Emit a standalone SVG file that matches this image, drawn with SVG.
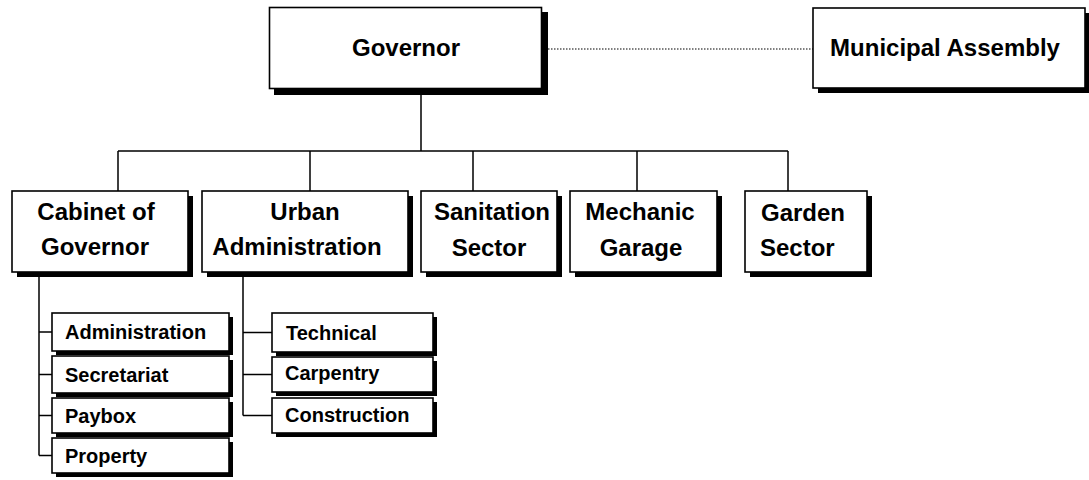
<svg xmlns="http://www.w3.org/2000/svg" width="1089" height="480" viewBox="0 0 1089 480">
  <style>
    .box { fill: #fff; stroke: #000; stroke-width: 1.6; }
    .shadow { fill: #000; }
    .t { font-family: "Liberation Sans", Arial, sans-serif; font-weight: bold; fill: #000; }
    .lg { font-size: 24px; }
    .sm { font-size: 20px; }
    .mid { text-anchor: middle; }
    .conn { stroke: #000; stroke-width: 1.5; fill: none; }
    .dot { stroke: #000; stroke-width: 1.2; stroke-dasharray: 1.5 1.5; fill: none; }
  </style>
  <rect width="1089" height="480" fill="#fff"/>

  <!-- connectors -->
  <g id="connectors">
    <line class="dot" x1="548" y1="49" x2="813" y2="49"/>
    <path class="conn" d="M421 94 V151 M118 151 H788 M118 151 V191 M310 151 V191 M473 151 V191 M637 151 V191 M788 151 V191"/>
    <path class="conn" d="M39 277 V455.5 M39 332 H52 M39 374.5 H52 M39 415.5 H52 M39 455.5 H52"/>
    <path class="conn" d="M243 277 V415.5 M243 332.5 H272 M243 374.5 H272 M243 415.5 H272"/>
  </g>

  <!-- top level -->
  <g id="governor">
    <rect class="shadow" x="274" y="12" width="274" height="83"/>
    <rect class="box" x="269.5" y="7.5" width="272" height="81"/>
    <text class="t lg mid" x="406" y="56">Governor</text>
  </g>
  <g id="municipal-assembly">
    <rect class="shadow" x="818" y="13" width="272" height="80"/>
    <rect class="box" x="813" y="8" width="272" height="80"/>
    <text class="t lg mid" x="945" y="56">Municipal Assembly</text>
  </g>

  <!-- departments -->
  <g id="cabinet-of-governor">
    <rect class="shadow" x="17" y="196" width="176" height="81"/>
    <rect class="box" x="12" y="191" width="176" height="81"/>
    <text class="t lg mid" x="96" y="220">Cabinet of</text>
    <text class="t lg mid" x="95" y="255">Governor</text>
  </g>
  <g id="urban-administration">
    <rect class="shadow" x="207" y="196" width="206" height="81"/>
    <rect class="box" x="202" y="191" width="206" height="81"/>
    <text class="t lg mid" x="305" y="220">Urban</text>
    <text class="t lg mid" x="297" y="255">Administration</text>
  </g>
  <g id="sanitation-sector">
    <rect class="shadow" x="426" y="196" width="136" height="81"/>
    <rect class="box" x="421" y="191" width="136" height="81"/>
    <text class="t lg mid" x="492" y="220">Sanitation</text>
    <text class="t lg mid" x="489" y="256">Sector</text>
  </g>
  <g id="mechanic-garage">
    <rect class="shadow" x="575" y="196" width="147" height="81"/>
    <rect class="box" x="570" y="191" width="147" height="81"/>
    <text class="t lg mid" x="640" y="220">Mechanic</text>
    <text class="t lg mid" x="641" y="256">Garage</text>
  </g>
  <g id="garden-sector">
    <rect class="shadow" x="750" y="196" width="122" height="81"/>
    <rect class="box" x="745" y="191" width="122" height="81"/>
    <text class="t lg" x="761" y="221">Garden</text>
    <text class="t lg" x="760" y="256">Sector</text>
  </g>

  <!-- cabinet units -->
  <g id="administration">
    <rect class="shadow" x="56" y="317" width="177" height="38"/>
    <rect class="box" x="52" y="313" width="177" height="38"/>
    <text class="t sm" x="65" y="339">Administration</text>
  </g>
  <g id="secretariat">
    <rect class="shadow" x="56" y="360" width="177" height="37"/>
    <rect class="box" x="52" y="356" width="177" height="37"/>
    <text class="t sm" x="65" y="381.5">Secretariat</text>
  </g>
  <g id="paybox">
    <rect class="shadow" x="56" y="402" width="177" height="35"/>
    <rect class="box" x="52" y="398" width="177" height="35"/>
    <text class="t sm" x="65" y="422.5">Paybox</text>
  </g>
  <g id="property">
    <rect class="shadow" x="56" y="442" width="177" height="35"/>
    <rect class="box" x="52" y="438" width="177" height="35"/>
    <text class="t sm" x="65" y="462.5">Property</text>
  </g>

  <!-- urban units -->
  <g id="technical">
    <rect class="shadow" x="276" y="317" width="161" height="39"/>
    <rect class="box" x="272" y="313" width="161" height="39"/>
    <text class="t sm" x="286" y="340">Technical</text>
  </g>
  <g id="carpentry">
    <rect class="shadow" x="276" y="361" width="161" height="35"/>
    <rect class="box" x="272" y="357" width="161" height="35"/>
    <text class="t sm" x="285" y="380">Carpentry</text>
  </g>
  <g id="construction">
    <rect class="shadow" x="276" y="402" width="161" height="35"/>
    <rect class="box" x="272" y="398" width="161" height="35"/>
    <text class="t sm" x="285" y="422">Construction</text>
  </g>
</svg>
